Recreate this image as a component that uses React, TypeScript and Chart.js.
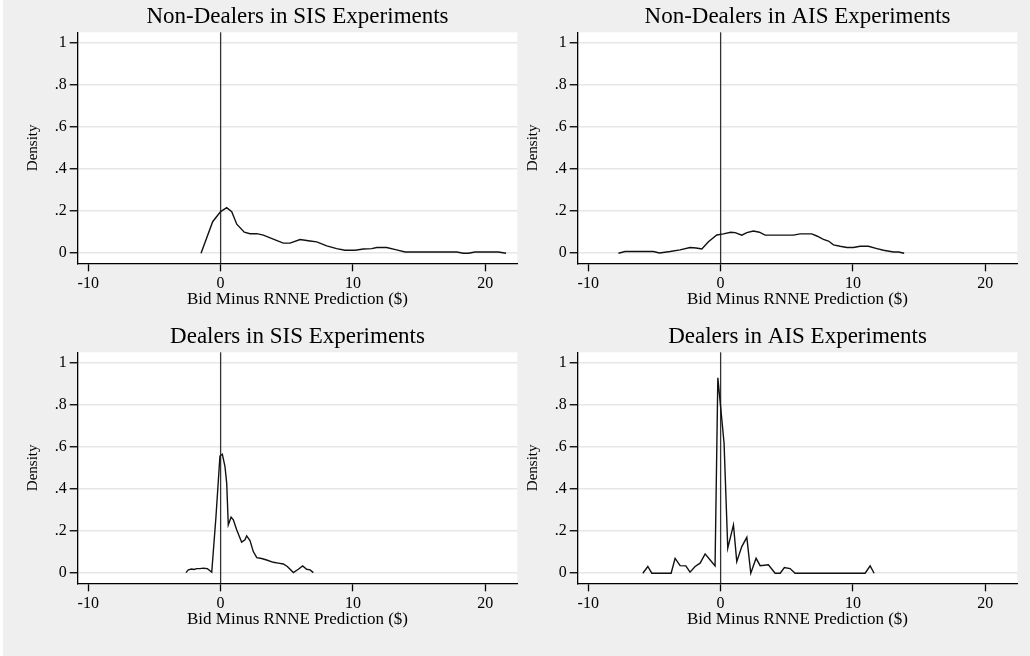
import React, { useEffect, useRef } from "react";
import { Chart, registerables } from "chart.js";

Chart.register(...registerables);

// ---------- text ----------
const panelTitles = [
  "Non-Dealers in SIS Experiments",
  "Non-Dealers in AIS Experiments",
  "Dealers in SIS Experiments",
  "Dealers in AIS Experiments",
];
const xAxisTitle = "Bid Minus RNNE Prediction ($)";
const yAxisTitle = "Density";

// ---------- ticks / ranges ----------
const xTickValues = [-10, 0, 10, 20];
const xTickLabels = ["-10", "0", "10", "20"];
const yTickValues = [0, 0.2, 0.4, 0.6, 0.8, 1];
const yTickLabels = ["0", ".2", ".4", ".6", ".8", "1"];
const xRange = [-10.8, 22.42];
const yRange = [-0.048, 1.052];
const referenceLineX = 0;

// ---------- data ----------
const nonDealersSisX = [
  -1.48, -0.6, 0.0, 0.46, 0.84, 1.22, 1.79, 2.22, 2.73, 3.23, 3.98, 4.74, 5.25, 6.0,
  6.76, 7.26, 8.02, 8.77, 9.4, 10.16, 10.79, 11.42, 11.8, 12.55, 13.3, 13.94, 14.82,
  15.58, 16.84, 17.85, 18.35, 18.72, 19.23, 20.36, 20.99, 21.57,
];
const nonDealersSisY = [
  0.0, 0.15, 0.198, 0.217, 0.198, 0.138, 0.1, 0.093, 0.093, 0.086, 0.067, 0.048, 0.048,
  0.065, 0.058, 0.054, 0.035, 0.022, 0.014, 0.014, 0.02, 0.022, 0.027, 0.027, 0.016,
  0.006, 0.006, 0.006, 0.006, 0.006, 0.0, 0.0, 0.006, 0.006, 0.006, 0.0,
];

const nonDealersAisX = [
  -7.72, -7.22, -6.34, -5.08, -4.62, -3.82, -3.06, -2.31, -1.85, -1.42, -0.92, -0.29,
  0.21, 0.77, 1.1, 1.6, 1.98, 2.48, 2.93, 3.36, 4.25, 5.5, 6.01, 6.89, 7.27, 7.77, 8.15,
  8.53, 9.03, 9.54, 10.04, 10.54, 11.17, 11.81, 12.31, 13.06, 13.44, 13.87,
];
const nonDealersAisY = [
  0.0, 0.008, 0.008, 0.008, 0.001, 0.008, 0.016, 0.027, 0.025, 0.02, 0.055, 0.087,
  0.092, 0.1, 0.098, 0.086, 0.098, 0.106, 0.1, 0.086, 0.086, 0.086, 0.092, 0.092, 0.082,
  0.066, 0.058, 0.04, 0.033, 0.027, 0.027, 0.033, 0.033, 0.022, 0.014, 0.006, 0.006, 0.0,
];

const dealersSisX = [
  -2.62, -2.44, -2.19, -2.01, -1.81, -1.56, -1.31, -1.0, -0.67, -0.35, -0.05, 0.13,
  0.33, 0.46, 0.58, 0.79, 0.96, 1.22, 1.59, 1.84, 1.97, 2.22, 2.47, 2.73, 3.1, 3.48,
  3.98, 4.36, 4.74, 5.04, 5.5, 5.87, 6.2, 6.5, 6.76, 7.01,
];
const dealersSisY = [
  0.003, 0.016, 0.02, 0.018, 0.022, 0.022, 0.024, 0.022, 0.005, 0.27, 0.558, 0.567,
  0.508, 0.428, 0.23, 0.267, 0.254, 0.206, 0.148, 0.159, 0.178, 0.155, 0.103, 0.074,
  0.07, 0.063, 0.052, 0.048, 0.044, 0.032, 0.003, 0.019, 0.035, 0.019, 0.016, 0.003,
];

const dealersAisX = [
  -5.88, -5.5, -5.2, -3.74, -3.44, -3.06, -2.63, -2.31, -1.93, -1.55, -1.17, -0.79,
  -0.42, -0.21, 0.26, 0.54, 0.97, 1.22, 1.6, 1.98, 2.28, 2.68, 2.99, 3.61, 4.12, 4.5,
  4.82, 5.25, 5.63, 7.52, 10.92, 11.3, 11.6,
];
const dealersAisY = [
  0.0, 0.032, 0.0, 0.0, 0.071, 0.036, 0.035, 0.005, 0.032, 0.048, 0.092, 0.063, 0.035,
  0.931, 0.62, 0.119, 0.23, 0.055, 0.127, 0.171, 0.0, 0.071, 0.036, 0.04, 0.0, 0.0,
  0.027, 0.022, 0.0, 0.0, 0.0, 0.035, 0.0,
];

const panelXs = [nonDealersSisX, nonDealersAisX, dealersSisX, dealersAisX];
const panelYs = [nonDealersSisY, nonDealersAisY, dealersSisY, dealersAisY];

// ---------- style ----------
const FONT = "'Liberation Serif', 'Times New Roman', serif";
const BG = "#efefef";
const GRID = "#e6e6e6";
const INK = "#000000";

const CANVAS_W = 520;
const CANVAS_H = 320;

const panelDecor = {
  id: "panelDecor",
  beforeDraw(chart: any) {
    const { ctx, chartArea: a } = chart;
    ctx.save();
    ctx.fillStyle = "#ffffff";
    ctx.fillRect(a.left, a.top, a.right - a.left, a.bottom - a.top);
    ctx.restore();
  },
  beforeDatasetsDraw(chart: any) {
    const { ctx, chartArea: a } = chart;
    const px = chart.scales.x.getPixelForValue(referenceLineX);
    ctx.save();
    ctx.strokeStyle = "#333333";
    ctx.lineWidth = 1.3;
    ctx.beginPath();
    ctx.moveTo(px, a.top);
    ctx.lineTo(px, a.bottom);
    ctx.stroke();
    ctx.restore();
  },
};

function Panel({ index, left, top }: { index: number; left: number; top: number }) {
  const ref = useRef<HTMLCanvasElement | null>(null);
  useEffect(() => {
    if (!ref.current) return;
    const xs = panelXs[index];
    const ys = panelYs[index];
    const chart = new Chart(ref.current, {
      type: "line",
      data: {
        datasets: [
          {
            data: xs.map((x, i) => ({ x, y: ys[i] })),
            borderColor: "#111111",
            borderWidth: 1.4,
            pointRadius: 0,
            tension: 0,
            fill: false,
          },
        ],
      },
      plugins: [panelDecor],
      options: {
        animation: false,
        responsive: false,
        maintainAspectRatio: false,
        events: [],
        layout: { padding: { left: 0, right: 2.7, top: 0, bottom: 0 } },
        plugins: {
          legend: { display: false },
          tooltip: { enabled: false },
          title: { display: false },
        },
        scales: {
          x: {
            type: "linear",
            position: "bottom",
            min: xRange[0],
            max: xRange[1],
            afterBuildTicks: (s: any) => {
              s.ticks = xTickValues.map((v) => ({ value: v }));
            },
            afterFit: (s: any) => {
              s.height = 56.7;
            },
            grid: {
              drawOnChartArea: false,
              drawTicks: true,
              tickLength: 8,
              tickColor: INK,
              tickWidth: 1.3,
            },
            border: { display: true, color: INK, width: 1.3 },
            ticks: {
              color: INK,
              font: { family: FONT, size: 16 },
              padding: 3,
              maxRotation: 0,
              autoSkip: false,
              callback: (v: any) => xTickLabels[xTickValues.indexOf(Number(v))],
            },
            title: {
              display: true,
              text: xAxisTitle,
              color: INK,
              font: { family: FONT, size: 17 },
              padding: { top: 0, bottom: 9.8 },
            },
          },
          xTop: {
            type: "linear",
            position: "top",
            min: 0,
            max: 1,
            afterFit: (s: any) => {
              s.height = 32.3;
            },
            grid: { display: false },
            border: { display: false },
            ticks: { display: false },
            title: {
              display: true,
              text: panelTitles[index],
              color: INK,
              font: { family: FONT, size: 23 },
              padding: { top: 3, bottom: 0 },
            },
          },
          y: {
            type: "linear",
            position: "left",
            min: yRange[0],
            max: yRange[1],
            afterBuildTicks: (s: any) => {
              s.ticks = yTickValues.map((v) => ({ value: v }));
            },
            afterFit: (s: any) => {
              s.width = 77.7;
            },
            grid: {
              drawOnChartArea: true,
              color: GRID,
              lineWidth: 1.5,
              drawTicks: true,
              tickLength: 8,
              tickColor: INK,
              tickWidth: 1.3,
            },
            border: { display: true, color: INK, width: 1.3 },
            ticks: {
              color: INK,
              font: { family: FONT, size: 16 },
              padding: 3,
              autoSkip: false,
              callback: (v: any) => yTickLabels[yTickValues.indexOf(Number(v))],
            },
            title: {
              display: true,
              text: yAxisTitle,
              color: INK,
              font: { family: FONT, size: 15 },
              padding: { top: 24, bottom: 0 },
            },
          },
        },
      } as any,
    });
    return () => chart.destroy();
  }, [index]);
  return (
    <canvas
      ref={ref}
      width={CANVAS_W}
      height={CANVAS_H}
      style={{
        position: "absolute",
        left,
        top,
        width: CANVAS_W,
        height: CANVAS_H,
      }}
    />
  );
}

export default function App() {
  return (
    <div
      style={{
        position: "fixed",
        left: 0,
        top: 0,
        width: 1030,
        height: 656,
        background: "#ffffff",
        overflow: "hidden",
      }}
    >
      <div
        style={{
          position: "absolute",
          left: 3,
          top: 0,
          width: 1027,
          height: 656,
          background: BG,
        }}
      />
      <Panel index={0} left={0} top={0} />
      <Panel index={1} left={500} top={0} />
      <Panel index={2} left={0} top={320} />
      <Panel index={3} left={500} top={320} />
    </div>
  );
}
